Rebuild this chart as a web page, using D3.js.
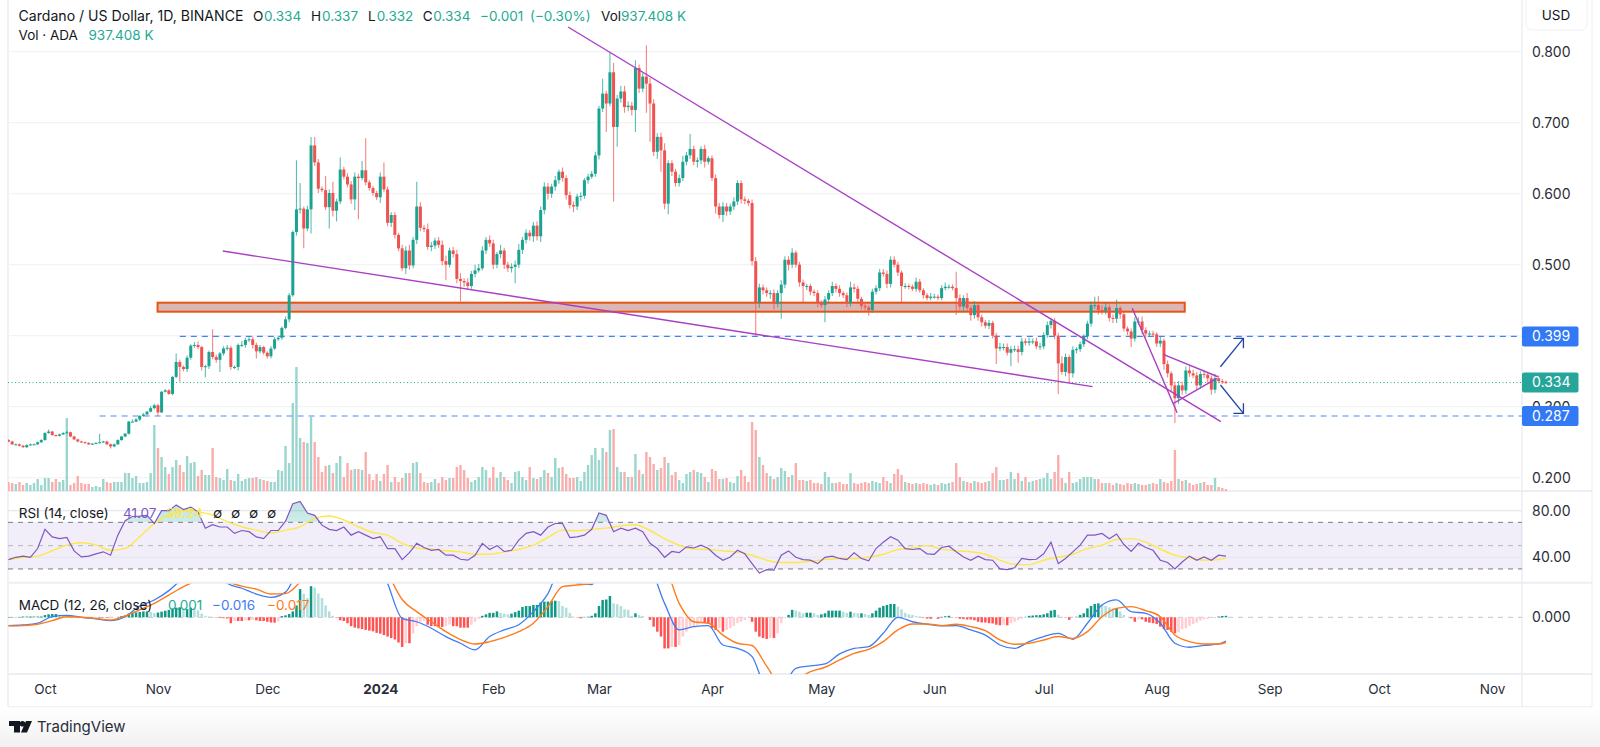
<!DOCTYPE html>
<html>
<head>
<meta charset="utf-8">
<script src="https://cdnjs.cloudflare.com/ajax/libs/d3/7.8.5/d3.min.js"></script>
<style>
  html, body { margin: 0; padding: 0; background: #fff; overflow: hidden; }
  text { font-family: Inter, "Noto Sans", sans-serif; }
  .tick line, .domain { display: none; }
</style>
</head>
<body>
<div id="chart"></div>
<script>
// daily closes, one per candle, first candle is 21 Sep 2023
const closes = [
  .251,.247,.247,.245,.243,.246,.247,.247,.250,.253,
  .263,.265,.260,.259,.261,.263,.264,.258,.254,.251,
  .250,.249,.247,.248,.249,.250,.251,.247,.244,.247,
  .253,.258,.262,.279,.279,.282,.287,.289,.293,.298,
  .302,.292,.321,.323,.318,.342,.363,.356,.353,.369,
  .386,.387,.384,.356,.357,.377,.370,.366,.375,.382,
  .383,.356,.356,.387,.387,.394,.395,.387,.378,.384,
  .376,.371,.382,.395,.397,.411,.423,.457,.546,.578,
  .579,.551,.578,.668,.644,.607,.605,.581,.601,.576,
  .589,.634,.624,.613,.592,.624,.622,.633,.616,.608,
  .601,.595,.624,.606,.559,.570,.542,.523,.495,.520,
  .499,.535,.582,.552,.550,.525,.527,.534,.528,.505,
  .500,.520,.515,.480,.477,.475,.470,.487,.492,.495,
  .520,.535,.530,.500,.515,.520,.500,.495,.497,.500,
  .521,.535,.545,.540,.555,.540,.577,.610,.600,.610,
  .619,.631,.622,.598,.584,.582,.596,.597,.619,.624,
  .628,.654,.720,.741,.727,.771,.694,.734,.744,.722,
  .724,.718,.777,.748,.765,.755,.727,.659,.680,.661,
  .586,.643,.631,.615,.622,.645,.654,.663,.645,.647,
  .663,.645,.650,.622,.582,.570,.582,.575,.582,.589,
  .615,.592,.590,.587,.505,.447,.468,.464,.460,.460,
  .445,.460,.472,.507,.500,.517,.500,.475,.470,.470,
  .462,.460,.446,.443,.451,.460,.470,.466,.460,.457,
  .446,.468,.466,.452,.442,.440,.436,.462,.467,.489,
  .487,.473,.507,.500,.489,.470,.470,.469,.466,.476,
  .464,.457,.453,.455,.455,.453,.467,.469,.469,.467,
  .453,.441,.453,.439,.429,.443,.426,.419,.414,.418,
  .400,.382,.384,.384,.376,.381,.381,.377,.392,.390,
  .392,.392,.385,.385,.401,.415,.421,.400,.361,.349,
  .370,.347,.380,.381,.388,.399,.417,.443,.443,.436,
  .435,.440,.425,.424,.439,.430,.410,.406,.396,.420,
  .420,.408,.403,.403,.402,.389,.393,.360,.347,.330,
  .312,.330,.323,.351,.347,.344,.330,.346,.345,.340,
  .324,.340,.336,.335,.334
];
const firstOpen = .253;

// wick lengths in thousandths of a dollar
const wickUp = [
  1,1,1,1,1,1,1,1,1,1, 1,3,1,1,1,1,2,1,1,1, 1,1,1,1,1,12,1,1,1,1, 1,1,1,1,3,2,1,2,1,3,
  2,2,1,2,2,1,12,3,2,3, 2,4,5,2,2,2,32,3,2,3, 4,3,2,2,6,3,3,4,3,3, 2,2,3,3,3,2,4,3,2,69,
  36,3,5,12,12,5,3,20,5,16, 4,17,4,5,5,6,4,13,45,3, 3,3,6,20,4,4,4,3,5,6, 8,4,35,6,4,8,5,4,5,6,
  8,4,5,6,8,4,6,4,8,6, 6,4,6,5,3,8,4,4,5,6, 8,4,5,4,5,6,5,6,5,4, 6,3,6,4,5,5,4,5,3,4,
  4,5,4,21,4,27,13,5,8,8, 6,5,11,5,5,44,8,6,5,6, 10,4,4,4,5,8,5,21,5,4, 4,6,3,4,5,5,6,5,4,6,
  4,4,4,3,5,6,5,4,4,4, 5,4,6,5,5,6,3,4,4,3, 3,3,4,4,5,4,6,4,5,3, 4,8,5,4,3,3,3,4,4,5,
  5,5,5,5,4,3,4,3,3,6, 4,3,3,5,4,3,4,6,3,3, 23,5,4,7,4,6,3,4,3,4, 3,4,6,5,5,4,5,5,5,4,
  5,4,5,5,4,5,4,4,4,10, 5,3,5,3,4,3,4,5,12,13, 7,6,4,5,12,3,4,3,4,6, 6,7,4,4,4,3,5,3,5,3,
  5,6,5,6,6,5,5,4,6,4, 4,6,4,3,2
];
const wickDown = [
  1,1,1,1,1,1,1,1,1,1, 1,1,1,1,1,1,1,1,1,1, 1,1,1,1,1,1,1,1,3,1, 1,1,1,1,1,1,2,1,1,1,
  2,5,1,1,1,2,2,21,3,4, 3,3,3,5,15,4,3,4,17,3, 3,4,3,5,3,4,3,5,10,3, 3,3,3,2,2,3,2,4,2,5,
  6,28,4,34,5,6,3,4,30,8, 15,4,4,4,6,15,58,3,4,4, 4,4,8,4,5,6,5,4,4,8, 6,4,6,5,4,4,6,5,4,6,
  22,4,5,6,29,6,4,4,5,3, 3,5,5,6,5,6,6,5,6,23, 5,6,5,6,8,6,8,6,8,6, 6,5,5,6,5,8,5,6,4,5,
  3,4,6,5,40,4,105,28,6,8, 6,8,31,6,5,41,54,6,10,30, 8,15,6,5,5,4,5,5,5,8, 5,8,4,4,10,5,10,6,5,5,
  5,6,5,4,6,47,8,6,5,8, 8,5,36,5,8,5,4,6,24,6, 5,4,6,4,24,4,4,5,5,4, 6,5,5,5,5,5,8,4,4,4,
  4,6,5,4,5,25,4,4,3,4, 3,5,3,3,3,3,3,3,3,3, 24,5,8,5,8,5,5,6,4,5, 4,22,4,5,4,19,4,15,5,4,
  4,4,4,5,4,4,5,5,43,4, 6,14,6,5,4,4,4,4,5,6, 5,5,5,6,6,6,4,5,12,4, 5,6,6,4,4,5,5,8,6,8,
  35,8,6,5,5,4,6,5,5,8, 7,5,3,3,2
];

// volume in millions of ADA
const volumes = [
  4.5,4,3.5,4.5,3,4,3,4,6,3, 6.5,6.5,4.5,6,4.5,5.5,36.5,3,4,7.5,
  4,3.5,3.5,2,2.5,2,6,4.5,4,4.5, 4.5,4.5,9,9,6.5,7.5,4,4,4.5,9,
  33,21.5,17,12,8.5,12,15.5,13,9.5,17.5, 14,14.5,7.5,10.5,8,8,21.5,7,6.5,5.5,
  11,5.5,5,8.5,5,6,6.5,6.5,7,6, 5.5,5,4.5,4.5,10.5,10,22.5,14,44,62,
  26.5,24.5,24,37,24.5,17,9.5,12.5,13,9, 14,17.5,7,14,10.5,11,11,10.5,19.5,8.5,
  5.5,8.5,5,8.5,13,4.5,7,4.5,6.5,9, 9,14,14.5,9,4.5,4,4.5,6,4,7,
  5.5,6.5,6.5,12,13,10.5,6.5,4.5,5.5,7, 12,10.5,6.5,12,6.5,9.5,7,5.5,4,9.5,
  10,7,5.5,12,6.5,6,7,10.5,9,7, 16.5,11.5,12,8.5,6.5,6.5,7,5,9.5,13,
  18,21.5,15.5,21.5,19.5,30.5,31,12,9.5,9.5, 7,7,18.5,10.5,8.5,19.5,17,13.5,10.5,11.5,
  17,14,8,9.5,5.5,4,8.5,9.5,10.5,9.5, 9,7,4.5,11,10,6,6,6.5,4.5,4,
  7.5,10.5,7.5,4.5,34.5,30.5,17,13,9,7.5, 6,7,11.5,10,7,8,14,5.5,5.5,5,
  5.5,4,4,3.5,9.5,7,4,4,4.5,3.5, 3.5,9,4,3.5,4,4.5,4,5,4.5,4,
  7,5,4,8.5,11,8,4.5,4,3.5,4, 3.5,4,3.5,3,3.5,3,4,3.5,4,4.5,
  14,7,5,4.5,4,5,4.5,4,4.5,5, 9,12,5.5,5.5,6,9.5,6,9,5,7,
  4.5,5,5.5,6,6.5,9,6,9.5,18,6.5, 4,9.5,4,4.5,6,7,7,7,6,6,
  4,4,4,3,4,3.5,3,4,3.5,4, 3.5,3,3,3.5,4,3.5,6,4.5,4,5,
  20.5,6,5,5.5,4,3,3.5,4,4.5,3, 3,6.5,2,1.5,.937
];

// RSI read every second candle
const rsiValues = [
  38,40,41,40,47.5,64,57.5,56,57,45.5,40.3,41,43,44.7,41.8,59,71.4,75,75.4,76,
  69,80,80,85,81,83,79,65,68,66,66,60.5,63,62,57.5,56,63,63,71,86,
  88,78,76,67.6,64,63,66,59,62,59,56,57.6,47.5,47.5,38,44,52,48.4,46,46.7,
  41.8,41.8,38.3,37.5,41.8,52,46.7,50,45,46,54.7,60.5,62,59,66,69,69,57,57.6,59,
  64,78,76,62,65,63,65,62,52,47.5,40,45,44,49,48,50.4,47.5,41.8,37.5,40.3,
  46,43,34.6,26.5,29.4,29,41.8,45.5,40,38,37.5,34.6,40,41,39,38,43.8,39,37,47.5,
  53,57.6,54.7,47.5,46.7,47.5,43,42.6,48.4,49.5,44.7,40.3,37.5,41,38,37.5,30,29.4,31,39,
  38,38.3,43,53,34.6,39,44.7,50.4,59,59,60.5,56,60,51,45,52,48.4,46,37.5,35.5,
  30,36,41,37.5,40.3,37.5,41.8,41
];
// smoothing line of the RSI, every fourth candle, plus the last one
const rsiMaValues = [
  38,39.8,41,45.6,50.5,52.5,50.5,46,47.6,57.6,69,76.3,80,79,76.3,70.6,66.2,63.3,61,63.3,
  66.2,73.4,75.4,72,66.2,61.3,59,52,48,47,45.6,44.7,42.6,42.6,44.7,46.7,
  50.4,57,63.3,62.8,64,65,67,68,63,56,50.4,47,46.7,45.5,44.4,41.8,37.5,35.5,35.5,36.6,
  38,39,39,40,42.6,46.7,48,50,47,45.5,44.7,42.6,37.5,34,33.7,
  37.5,40,42.6,47.5,50.4,55.3,56,53,47,41.8,39.5,37.5,38,39.24
];

// MACD and signal in thousandths, every fourth candle, plus the last one
const macdValues = [
  -5.6,-5.2,-4,.5,1.3,0,-1.1,-2.2,.4,7.6,11.7,18,27,36,34,23,19.6,15.7,13.5,17,
  36,56,68,70,65,48,23,-.7,-3,-7.4,-13,-17.5,-22,-13,-8.5,-5,
  3.8,16,36,23,22,48,46,41,34,9.4,-8.5,-6.3,-5.6,-18.7,-21,-26.5,-47,-47,-34.4,-32.8,
  -31.5,-24.7,-21,-19.8,-10.8,0,-3,-4.7,-5.8,-5.6,-8.5,-12,-18.7,-21,-16.4,
  -13,-10.8,-14.8,-4,8.3,11.7,3.8,2.7,-4,-17.5,-20.2,-19,-18,-16
];
const signalValues = [
  -5.8,-5.6,-4.7,-2.2,.4,0,-.7,-1.8,.9,5,9.4,15,20.7,25,27,24,21,19,15.7,16,
  24,39,48,52,54,48,30,12,3.8,-3,-9.7,-15,-18,-16.4,-13.5,-9.7,
  -4,7.2,20.7,21.8,23,36,40,42,39,34,9.4,-3,-4,-12,-17.5,-19,-33,-45.7,-42,-36.7,
  -33.7,-28.8,-24.3,-21.6,-16.4,-8.5,-4.5,-4.5,-5.6,-4.7,-6.3,-9,-15.3,-18.2,-17.5,
  -15.3,-13,-14.2,-9.7,.4,6,7.2,4.5,.4,-12,-16.4,-18,-18,-17
];
// histogram per candle, thousandths
const histValues = [
  .2,.2,.2,.2,.5,.5,.5,.5,.5,.5, 1.5,2,2.2,2.2,1.8,1.5,1.2,.8,.5,.3,
  .2,.1,.1,0,-.2,-.3,-.3,-.5,-.4,-.2, .3,.8,1.2,2.5,3,3.3,3.6,4,4,3.6,
  2.8,3.2,3.8,4.4,5,6,6.5,6.8,5.5,5.5, 6.5,5.5,4.6,2.5,1,.5,.2,-.3,-.4,-.6,
  -.8,-4,-2.5,-2.5,-2.5,-2,-2,-1.8,-2,-2.5, -2.5,-3,-3.5,-3.6,-2.7,.8,1.3,2.2,4,8,
  19,16,13,21,20,16,13,8,4,1, -.3,-2,-2.5,-4,-6,-7,-7.5,-8,-8.5,-9,
  -9.5,-10.5,-11,-12,-13,-14,-15,-17,-20,-17.5, -17.5,-11,-6,-3,-2.5,-5,-6,-6,-6.5,-6.5,
  -6,-5,-6,-6,-7,-7,-7,-5,-3,-1, 1,2,3,3,4,3,2.5,2,2.5,3.5,
  4.5,7,7.6,7.6,8.3,8.3,10,10.6,10.6,11, 11.2,11,7.6,6.5,3,.5,-.2,-.7,.3,.4,
  1,2.7,7.6,11.7,12,14.4,9.4,8.8,7.6,5.4, 5,1,2.7,1.5,.9,0,-1.8,-6.3,-9.7,-13,
  -21,-21,-20,-20,-18.7,-13,-9.7,-6.3,-5.8,-5, -4,-4,-4,-7.4,-8.5,-7.4,-9.7,-8.5,-7.4,-5.8,
  -4,-3,-1.8,0,-3,-9.7,-13,-14,-14.6,-14, -14,-10.8,-4,-.7,1.6,5,4.5,3.8,2.7,3.1,
  3.1,2.7,1.6,2,2.7,4.5,4.5,4.5,4.5,3.8, 3,3.8,3,2.7,2.7,2.3,1.6,2.7,4.5,6.5,
  7.6,8.3,9,9,7.2,5.4,3,2,1.6,.9, .4,-.3,-.9,-1,0,-1,.3,.7,1,0,
  -.3,-1,-1.2,-1.5,-1.5,-2,-3,-3.5,-3.5,-4, -4.2,-5,-5.4,-5.2,-5.4,-4,-3,-1.8,-1,.3,
  1,1.2,1.4,1.5,2,2.7,4.5,5,1.6,0, -.3,-1.7,0,.4,1.6,2.7,6,7.6,9,9.4,
  9,7.6,6.7,6,6,3.8,1.6,0,-.7,-3, -1.4,-1.4,-3,-3.6,-4,-4.5,-6.3,-8,-8.5,-9.7,
  -10.8,-10.3,-8,-7.4,-5.8,-4.5,-3.6,-2.2,-1.4,-1, -.5,.2,.5,.9,1
];

const monthLabels = ["Oct","Nov","Dec","2024","Feb","Mar","Apr","May","Jun","Jul","Aug","Sep","Oct","Nov"];
const monthCandles = [10,41,71,102,133,162,193,223,254,284,315,346,376,407];
const priceTicks = [.2,.3,.4,.5,.6,.7,.8];
const priceLabelTicks = [.2,.3,.5,.6,.7,.8];
const rsiTicks = [40,80];

// drawn annotations as [candle, price] pairs
const trendLines = [
  [[153.5,.8348],[332.6,.2789]],
  [[58.8,.5193],[297.4,.3282]],
  [[308.3,.4386],[320.6,.2915]],
  [[316.8,.3738],[331.8,.3422]],
  [[319.6,.3048],[331.5,.34]]
];
const arrowUp = [[332.5,.3563],[338.8,.3963]];
const arrowDown = [[332.5,.3306],[338.8,.2907]];
const zone = {from: 40.9, to: 322.7, top: .4465, bottom: .4338};
const upperLevel = {price: .399, from: 47};
const lowerLevel = {price: .287, from: 25};
const lastPrice = .334;

const width = 1600, height = 747;
const left = 8, axisX = 1522, outerRight = 1592;
const priceBottom = 491, rsiBottom = 582.7, macdBottom = 674, timeBottom = 706.7;

const green = "#1aa390", red = "#ef5350", teal = "#22ab94";

const x = d3.scaleLinear().domain([0, 407]).range([8.5, 8.5 + 3.645 * 407]);
const y = d3.scaleLinear().domain([.2, .8]).range([477.7, 51.7]);
const volY = d3.scaleLinear().domain([0, 62]).range([priceBottom, priceBottom - 124]);
const rsiY = d3.scaleLinear().domain([40, 80]).range([557.3, 510.7]);
const macdY = d3.scaleLinear().domain([-10, 10]).range([617.3 + 14.82, 617.3 - 14.82]);

const opens = closes.map((c, i) => i ? closes[i - 1] : firstOpen);
const candles = closes.map((c, i) => ({
  i, open: opens[i], close: c,
  high: Math.max(opens[i], c) + wickUp[i] / 1000,
  low: Math.min(opens[i], c) - wickDown[i] / 1000,
  up: c >= opens[i]
}));
const lineIdx = d3.range(0, 333, 4).concat([334]);

const svg = d3.select("#chart").append("svg")
  .attr("width", width).attr("height", height)
  .style("display", "block");

const defs = svg.append("defs");
const clip = (id, y0, y1) => defs.append("clipPath").attr("id", id)
  .append("rect").attr("x", left).attr("y", y0).attr("width", axisX - left).attr("height", y1 - y0);
clip("clipPrice", 0, priceBottom);
clip("clipRsiTop", 500, rsiY(70));
clip("clipMacd", rsiBottom + 1, macdBottom);
const grad = defs.append("linearGradient").attr("id", "obFill").attr("x1", 0).attr("x2", 0).attr("y1", 0).attr("y2", 1);
grad.append("stop").attr("offset", "0%").attr("stop-color", "#26a69a").attr("stop-opacity", .3);
grad.append("stop").attr("offset", "100%").attr("stop-color", "#26a69a").attr("stop-opacity", .02);

// footer strip
const foot = defs.append("linearGradient").attr("id", "footFill").attr("x1", 0).attr("x2", 0).attr("y1", 0).attr("y2", 1);
foot.append("stop").attr("offset", "0%").attr("stop-color", "#ffffff");
foot.append("stop").attr("offset", "100%").attr("stop-color", "#f1f1f1");
svg.append("rect").attr("x", 0).attr("y", timeBottom).attr("width", width).attr("height", height - timeBottom).attr("fill", "url(#footFill)");

// frame and pane separators
const frame = svg.append("g").attr("stroke", "#eceef2").attr("fill", "none");
frame.append("line").attr("x1", left).attr("x2", left).attr("y1", 0).attr("y2", timeBottom).attr("stroke-width", 1.5);
frame.append("line").attr("x1", axisX).attr("x2", axisX).attr("y1", 0).attr("y2", timeBottom).attr("stroke-width", 1.5);
frame.append("line").attr("x1", outerRight).attr("x2", outerRight).attr("y1", 0).attr("y2", timeBottom);
[priceBottom, rsiBottom, macdBottom].forEach(v =>
  frame.append("line").attr("x1", left).attr("x2", outerRight).attr("y1", v).attr("y2", v).attr("stroke-width", 2));
frame.append("line").attr("x1", left).attr("x2", outerRight).attr("y1", timeBottom).attr("y2", timeBottom).attr("stroke-width", 1);

// grid
svg.append("g").selectAll("line").data(priceTicks).join("line")
  .attr("x1", left).attr("x2", axisX)
  .attr("y1", d => y(d)).attr("y2", d => y(d))
  .attr("stroke", "#f2f3f5").attr("stroke-width", 1.2);

// price pane
const pricePane = svg.append("g").attr("clip-path", "url(#clipPrice)");

pricePane.append("g").selectAll("rect").data(candles).join("rect")
  .attr("x", d => x(d.i) - 1.2).attr("width", 2.4)
  .attr("y", (d, i) => volY(volumes[i]))
  .attr("height", (d, i) => priceBottom - volY(volumes[i]))
  .attr("fill", d => d.up ? "#9ad6cd" : "#f9aeac");

pricePane.append("line").attr("x1", left).attr("x2", axisX)
  .attr("y1", y(lastPrice)).attr("y2", y(lastPrice))
  .attr("stroke", "#26a69a").attr("stroke-width", 1).attr("stroke-dasharray", "1 2.5");

pricePane.append("line").attr("x1", x(upperLevel.from)).attr("x2", axisX)
  .attr("y1", y(upperLevel.price)).attr("y2", y(upperLevel.price))
  .attr("stroke", "#3f83f8").attr("stroke-width", 1.4).attr("stroke-dasharray", "6 5");
pricePane.append("line").attr("x1", x(lowerLevel.from)).attr("x2", axisX)
  .attr("y1", y(lowerLevel.price)).attr("y2", y(lowerLevel.price))
  .attr("stroke", "#8fb0fb").attr("stroke-width", 1.4).attr("stroke-dasharray", "6 5");

pricePane.append("rect")
  .attr("x", x(zone.from)).attr("width", x(zone.to) - x(zone.from))
  .attr("y", y(zone.top)).attr("height", y(zone.bottom) - y(zone.top))
  .attr("fill", "#d9b7b7").attr("stroke", "#e8540f").attr("stroke-width", 2);

const candleG = pricePane.append("g");
candleG.selectAll("line").data(candles).join("line")
  .attr("x1", d => x(d.i)).attr("x2", d => x(d.i))
  .attr("y1", d => y(d.high)).attr("y2", d => y(d.low))
  .attr("stroke", d => d.up ? green : red).attr("stroke-width", 1.1).attr("opacity", .7);
candleG.selectAll("rect").data(candles).join("rect")
  .attr("x", d => x(d.i) - 1.5).attr("width", 3)
  .attr("y", d => y(Math.max(d.open, d.close)))
  .attr("height", d => Math.max(1, Math.abs(y(d.open) - y(d.close))))
  .attr("fill", d => d.up ? green : red);

const priceLine = d3.line().x(d => x(d[0])).y(d => y(d[1]));
pricePane.append("g").selectAll("path").data(trendLines).join("path")
  .attr("d", priceLine).attr("fill", "none")
  .attr("stroke", "#a93fc4").attr("stroke-width", 1.4);

// arrows with open heads
function drawArrow(pts, dir) {
  const tip = pts[1];
  const tx = x(tip[0]), ty = y(tip[1]);
  pricePane.append("path").attr("d", priceLine(pts)).attr("fill", "none")
    .attr("stroke", "#1f44a3").attr("stroke-width", 1.3);
  pricePane.append("path")
    .attr("d", d3.line()([[tx - 10, ty], [tx, ty], [tx, ty + dir * 10]]))
    .attr("fill", "none").attr("stroke", "#1f44a3").attr("stroke-width", 1.3);
}
drawArrow(arrowUp, 1);
drawArrow(arrowDown, -1);

// RSI pane
const rsiG = svg.append("g");
rsiG.append("rect").attr("x", left).attr("width", axisX - left)
  .attr("y", rsiY(70)).attr("height", rsiY(30) - rsiY(70))
  .attr("fill", "#7e57c2").attr("opacity", .1);
rsiTicks.forEach(v => rsiG.append("line").attr("x1", left).attr("x2", axisX)
  .attr("y1", rsiY(v)).attr("y2", rsiY(v)).attr("stroke", "#e6e7ee").attr("stroke-width", 1.2));
[[70, "#787b86"], [50, "#b5b7bf"], [30, "#787b86"]].forEach(b =>
  rsiG.append("line").attr("x1", left).attr("x2", axisX)
    .attr("y1", rsiY(b[0])).attr("y2", rsiY(b[0]))
    .attr("stroke", b[1]).attr("stroke-dasharray", "5 5"));

const rsiPts = rsiValues.map((v, k) => [k * 2, v]);
rsiG.append("path")
  .attr("clip-path", "url(#clipRsiTop)")
  .attr("d", d3.area().x(d => x(d[0])).y0(rsiY(70)).y1(d => rsiY(d[1]))(rsiPts))
  .attr("fill", "url(#obFill)");
rsiG.append("path")
  .attr("d", d3.line().x(d => x(lineIdx[d[0]])).y(d => rsiY(d[1])).curve(d3.curveMonotoneX)(rsiMaValues.map((v, k) => [k, v])))
  .attr("fill", "none").attr("stroke", "#fde84a").attr("stroke-width", 1.4);
rsiG.append("path")
  .attr("d", d3.line().x(d => x(d[0])).y(d => rsiY(d[1]))(rsiPts))
  .attr("fill", "none").attr("stroke", "#7e57c2").attr("stroke-width", 1.2);

// MACD pane
const macdG = svg.append("g").attr("clip-path", "url(#clipMacd)");
macdG.append("line").attr("x1", left).attr("x2", axisX)
  .attr("y1", macdY(0)).attr("y2", macdY(0))
  .attr("stroke", "#c3c5cc").attr("stroke-dasharray", "5 5");
macdG.append("g").selectAll("rect").data(histValues).join("rect")
  .attr("x", (d, i) => x(i) - 1.25).attr("width", 2.5)
  .attr("y", d => Math.min(macdY(d), macdY(0)))
  .attr("height", d => Math.abs(macdY(d) - macdY(0)))
  .attr("fill", (d, i) => {
    const prev = i ? histValues[i - 1] : 0;
    if (d >= 0) return d >= prev ? "#0f9985" : "#b2dfdb";
    return d <= prev ? "#ff5252" : "#ffcdd2";
  });
const macdLine = d3.line().x((d, k) => x(lineIdx[k])).y(d => macdY(d)).curve(d3.curveMonotoneX);
macdG.append("path").attr("d", macdLine(macdValues)).attr("fill", "none").attr("stroke", "#3f7cf4").attr("stroke-width", 1.3);
macdG.append("path").attr("d", macdLine(signalValues)).attr("fill", "none").attr("stroke", "#ff7a1a").attr("stroke-width", 1.4);

// axes
const labelColor = "#2a2e39";
const priceAxis = d3.axisRight(y).tickValues(priceLabelTicks).tickFormat(d3.format(".3f")).tickSize(0).tickPadding(10);
svg.append("g").attr("transform", `translate(${axisX},0)`).call(priceAxis)
  .selectAll("text").attr("fill", labelColor).style("font-size", "14px");

const rsiAxis = d3.axisRight(rsiY).tickValues(rsiTicks).tickFormat(d3.format(".2f")).tickSize(0).tickPadding(10);
svg.append("g").attr("transform", `translate(${axisX},0)`).call(rsiAxis)
  .selectAll("text").attr("fill", labelColor).style("font-size", "14px");

const macdAxis = d3.axisRight(macdY).tickValues([0]).tickFormat(d3.format(".3f")).tickSize(0).tickPadding(10);
svg.append("g").attr("transform", `translate(${axisX},0)`).call(macdAxis)
  .selectAll("text").attr("fill", labelColor).style("font-size", "14px");

const timeAxis = d3.axisBottom(x).tickValues(monthCandles)
  .tickFormat((d, k) => monthLabels[k]).tickSize(0).tickPadding(0);
const timeG = svg.append("g").attr("transform", `translate(0,${macdBottom + 10})`).call(timeAxis);
timeG.selectAll("text").attr("fill", labelColor).style("font-size", "13.5px")
  .attr("dy", "0.71em")
  .style("font-weight", d => d === 102 ? 700 : 400);

// price tags on the axis
function priceTag(price, fill) {
  const g = svg.append("g");
  g.append("rect").attr("x", axisX).attr("y", y(price) - 10).attr("width", 56.5).attr("height", 20)
    .attr("rx", 2).attr("fill", fill);
  g.append("text").attr("x", axisX + 10).attr("y", y(price)).attr("dy", "0.35em")
    .attr("fill", "#fff").style("font-size", "14px").text(price.toFixed(3));
}
priceTag(.399, "#3179f5");
priceTag(lastPrice, "#26a69a");
priceTag(.287, "#3179f5");

// currency button
svg.append("rect").attr("x", 1526).attr("y", -4).attr("width", 61).attr("height", 34).attr("rx", 6)
  .attr("fill", "#fff").attr("stroke", "#eff0f3");
svg.append("text").attr("x", 1556).attr("y", 15).attr("dy", "0.35em").attr("text-anchor", "middle")
  .attr("fill", "#131722").style("font-size", "13.5px").text("USD");

// legends
function legendRow(yPos, items) {
  items.forEach(t => svg.append("text")
    .attr("x", t[0]).attr("y", yPos).attr("dy", "0.35em")
    .attr("fill", t[2]).style("font-size", t[3] || "13.5px").text(t[1]));
}
const ink = "#131722";
legendRow(16, [
  [18.5, "Cardano / US Dollar, 1D, BINANCE", ink, "14.1px"],
  [253, "O", ink], [264, "0.334", teal],
  [311, "H", ink], [322, "0.337", teal],
  [368, "L", ink], [376.7, "0.332", teal],
  [422.7, "C", ink], [433.3, "0.334", teal],
  [480, "−0.001", teal], [530, "(−0.30%)", teal],
  [601, "Vol", ink], [621, "937.408 K", teal]
]);
legendRow(35, [[18.5, "Vol · ADA", ink], [88.5, "937.408 K", teal]]);
legendRow(513, [
  [18.7, "RSI (14, close)", ink], [123, "41.07", "#7e57c2"], [166, "39.24", "#fde84a"],
  [213, "∅", ink], [231, "∅", ink], [249, "∅", ink], [267, "∅", ink]
]);
legendRow(605, [
  [18.7, "MACD (12, 26, close)", ink], [168, "0.001", teal],
  [212, "−0.016", "#3f7cf4"], [267, "−0.017", "#ff7a1a"]
]);

// footer logo and name
const logo = svg.append("g").attr("fill", "#131722");
logo.append("path").attr("d", "M9,721H20V732.5H14V726H9Z");
logo.append("circle").attr("cx", 22.5).attr("cy", 723.8).attr("r", 2.8);
logo.append("path").attr("d", "M26,721H32L27,732.5H21Z");
svg.append("text").attr("x", 37).attr("y", 727).attr("dy", "0.35em")
  .attr("fill", "#2a2e39").style("font-size", "15px").text("TradingView");
</script>
</body>
</html>
